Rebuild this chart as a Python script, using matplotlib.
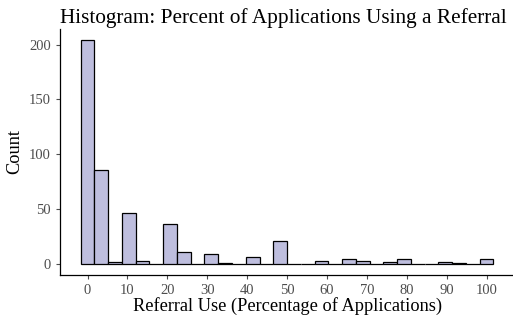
import numpy as np
import matplotlib
matplotlib.use("Agg")
import matplotlib.pyplot as plt

# 30 bins over 0..100 (ggplot default), centers and counts
bin_width = 100 / 29
bin_centers = np.arange(30) * bin_width
counts = [204, 86, 2, 46, 3, 0, 36, 11, 0, 9,
          1, 0, 6, 0, 21, 0, 0, 3, 0, 4,
          3, 0, 2, 4, 0, 0, 2, 1, 0, 4]
x_ticks = [0, 10, 20, 30, 40, 50, 60, 70, 80, 90, 100]
y_ticks = [0, 50, 100, 150, 200]

plt.rcParams['font.family'] = ['Liberation Serif', 'DejaVu Serif']

fig = plt.figure(figsize=(5.13, 3.15), dpi=100)
ax = fig.add_axes([0.117, 0.127, 0.885, 0.781])

ax.bar(bin_centers, counts, width=bin_width, color='#BEBEDE',
       edgecolor='black', linewidth=0.9)

lo = bin_centers[0] - bin_width / 2
hi = bin_centers[-1] + bin_width / 2
pad = (hi - lo) * 0.05
ax.set_xlim(lo - pad, hi + pad)
ymax = max(counts)
ax.set_ylim(-ymax * 0.05, ymax * 1.05)

ax.set_xticks(x_ticks)
ax.set_yticks(y_ticks)
ax.tick_params(labelsize=10.5, colors='#4D4D4D', length=3, width=0.8)
for s in ['top', 'right']:
    ax.spines[s].set_visible(False)
for s in ['left', 'bottom']:
    ax.spines[s].set_color('black')
    ax.spines[s].set_linewidth(0.9)

ax.set_xlabel('Referral Use (Percentage of Applications)', fontsize=13.2, labelpad=0)
ax.set_ylabel('Count', fontsize=13.2, labelpad=4)
ax.set_title('Histogram: Percent of Applications Using a Referral',
             fontsize=15.3, loc='left', pad=4)

fig.savefig('out.png', dpi=100)
